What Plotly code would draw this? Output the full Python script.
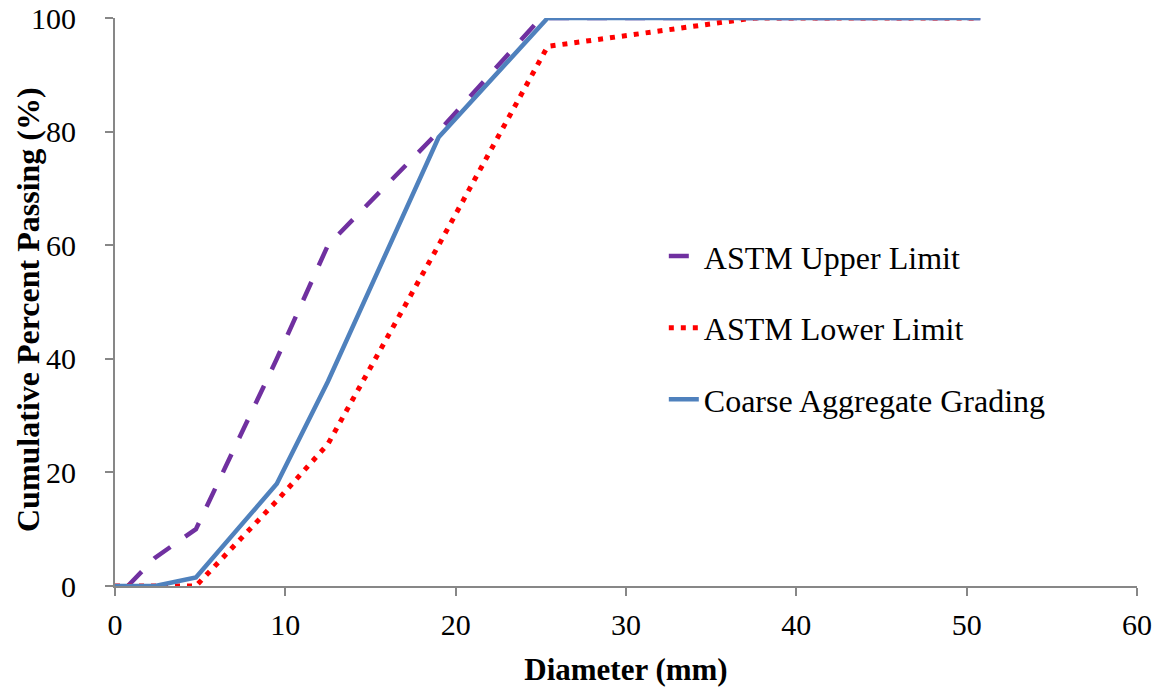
import plotly.graph_objects as go

# Data
upper_x = [0.75, 2.36, 4.75, 9.5, 12.5, 19.0, 25.0, 37.5, 50.8]
upper_y = [0, 5, 10, 40, 60, 80, 100, 100, 100]

lower_x = [0, 2.36, 4.75, 9.5, 12.5, 19.0, 25.4, 37.5, 50.8]
lower_y = [0, 0, 0, 15, 25, 60, 95, 100, 100]

coarse_x = [0, 2.36, 4.75, 9.5, 12.5, 19.0, 25.4, 37.5, 50.8]
coarse_y = [0, 0, 1.5, 18, 36, 79, 100, 100, 100]

x_ticks = [0, 10, 20, 30, 40, 50, 60]
y_ticks = [0, 20, 40, 60, 80, 100]

names = ["ASTM Upper Limit", "ASTM Lower Limit", "Coarse Aggregate Grading"]
x_title = "Diameter (mm)"
y_title = "Cumulative Percent Passing (%)"

FONT = "Liberation Serif, Times New Roman, serif"
AXIS_COLOR = "#878787"

fig = go.Figure()
fig.add_trace(go.Scatter(
    x=upper_x, y=upper_y, mode="lines", name=names[0], legendgroup="a",
    line=dict(color="#7030A0", width=4.5, dash="20px,18px"),
))
fig.add_trace(go.Scatter(
    x=lower_x, y=lower_y, mode="lines", name=names[1], legendgroup="b",
    line=dict(color="#FF0000", width=5, dash="5px,7px"),
))
fig.add_trace(go.Scatter(
    x=coarse_x, y=coarse_y, mode="lines", name=names[2], legendgroup="c",
    line=dict(color="#4F81BD", width=4.5),
))

fig.update_layout(
    width=1167, height=689,
    margin=dict(l=115, r=30, t=18, b=103),
    paper_bgcolor="white", plot_bgcolor="white",
    font=dict(family=FONT, size=30, color="black"),
    legend=dict(
        x=0.537, y=0.629, xanchor="left", yanchor="top",
        font=dict(family=FONT, size=32, color="black"),
        bgcolor="rgba(0,0,0,0)", tracegroupgap=27,
        traceorder="grouped",
    ),
    xaxis=dict(
        range=[0, 60], tickvals=x_ticks, ticktext=[str(v) for v in x_ticks],
        showgrid=False, zeroline=False, showline=True, linecolor=AXIS_COLOR, linewidth=2,
        ticks="outside", ticklen=8, tickwidth=2, tickcolor=AXIS_COLOR,
        ticklabelstandoff=3, automargin=False,
        title=dict(text="<b>" + x_title + "</b>", font=dict(family=FONT, size=31), standoff=18),
    ),
    yaxis=dict(
        range=[0, 100], tickvals=y_ticks, ticktext=[str(v) for v in y_ticks],
        showgrid=False, zeroline=False, showline=True, linecolor=AXIS_COLOR, linewidth=2,
        ticks="outside", ticklen=8, tickwidth=2, tickcolor=AXIS_COLOR,
        ticklabelstandoff=23, automargin=False,
    ),
    annotations=[dict(
        text="<b>" + y_title + "</b>", textangle=-90,
        xref="paper", yref="paper", x=0, y=0.5, xanchor="center", yanchor="middle",
        xshift=-87, yshift=-8, showarrow=False,
        font=dict(family=FONT, size=32, color="black"),
    )],
)

fig.write_html("out.html")
